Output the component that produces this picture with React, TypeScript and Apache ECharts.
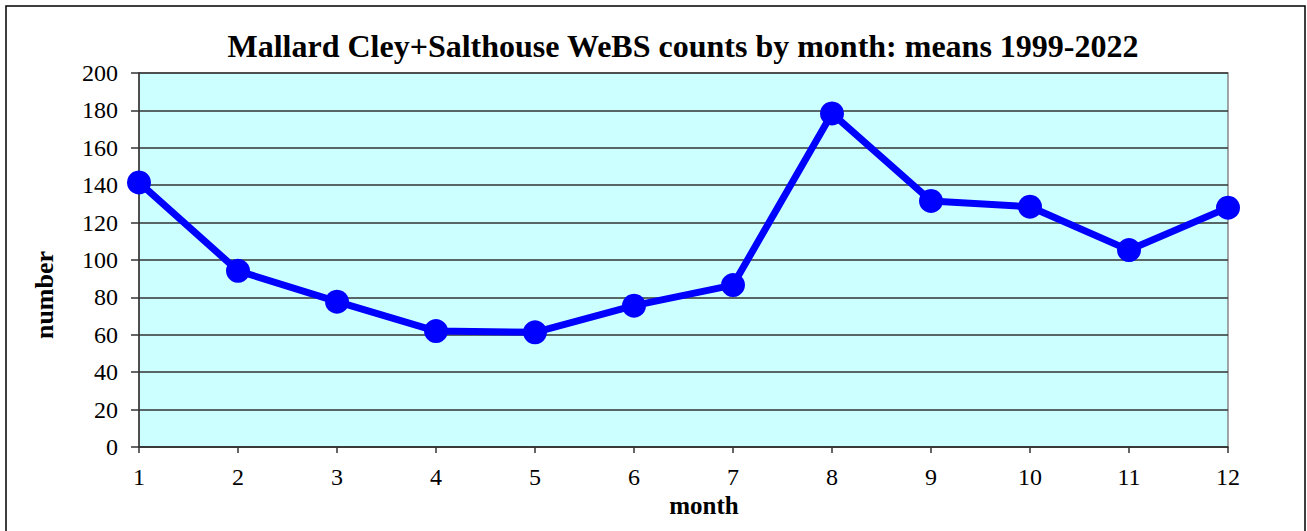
import React, { useEffect, useRef } from "react";
import * as echarts from "echarts";

const months = ["1", "2", "3", "4", "5", "6", "7", "8", "9", "10", "11", "12"];
const meanCounts = [141.5, 94.2, 77.7, 62.0, 61.3, 75.6, 86.6, 178.4, 131.6, 128.5, 105.3, 128.0];
const titleText = "Mallard Cley+Salthouse WeBS counts by month: means 1999-2022";
const yAxisName = "number";
const xAxisName = "month";

const FONT = '"Liberation Serif", "Times New Roman", serif';

export default function App() {
  const ref = useRef<HTMLDivElement>(null);
  useEffect(() => {
    if (!ref.current) return;
    const chart = echarts.init(ref.current, null, { renderer: "svg" });
    chart.setOption({
      animation: false,
      backgroundColor: "#ffffff",
      graphic: [
        {
          type: "rect",
          shape: { x: 6, y: 6, width: 1299, height: 540 },
          style: { fill: "none", stroke: "#000000", lineWidth: 1.5 },
          silent: true,
        },
        {
          type: "text",
          style: {
            text: titleText,
            x: 683,
            y: 46,
            align: "center",
            verticalAlign: "middle",
            font: `bold 32px ${FONT}`,
            fill: "#000000",
          },
        },
        {
          type: "text",
          style: {
            text: xAxisName,
            x: 704,
            y: 505,
            align: "center",
            verticalAlign: "middle",
            font: `bold 25px ${FONT}`,
            fill: "#000000",
          },
        },
        {
          type: "text",
          x: 44,
          y: 295,
          rotation: Math.PI / 2,
          style: {
            text: yAxisName,
            x: 0,
            y: 0,
            align: "center",
            verticalAlign: "middle",
            font: `bold 26px ${FONT}`,
            fill: "#000000",
          },
        },
      ],
      grid: {
        left: 139,
        top: 73,
        right: 79,
        bottom: 84,
        show: true,
        backgroundColor: "#ccffff",
        borderColor: "#888888",
        borderWidth: 1.5,
      },
      xAxis: {
        type: "category",
        data: months,
        boundaryGap: false,
        axisLine: { lineStyle: { color: "#333333", width: 1.5 } },
        axisTick: { show: true, alignWithLabel: true, length: 6, lineStyle: { color: "#333333", width: 1.5 } },
        axisLabel: { fontFamily: FONT, fontSize: 24, color: "#000", margin: 18 },
        splitLine: { show: false },
      },
      yAxis: {
        type: "value",
        min: 0,
        max: 200,
        interval: 20,
        axisLine: { show: true, lineStyle: { color: "#333333", width: 1.5 } },
        axisTick: { show: true, length: 8, lineStyle: { color: "#333333", width: 1.5 } },
        axisLabel: { fontFamily: FONT, fontSize: 24, color: "#000", margin: 21 },
        splitLine: { show: true, lineStyle: { color: "#333333", width: 1.5 } },
      },
      series: [
        {
          type: "line",
          data: meanCounts,
          symbol: "circle",
          symbolSize: 24,
          lineStyle: { color: "#0000ff", width: 7 },
          itemStyle: { color: "#0000ff" },
          z: 10,
        },
      ],
    });
    return () => chart.dispose();
  }, []);
  return (
    <div
      ref={ref}
      style={{ position: "fixed", left: 0, top: 0, width: 1307, height: 531 }}
    />
  );
}
